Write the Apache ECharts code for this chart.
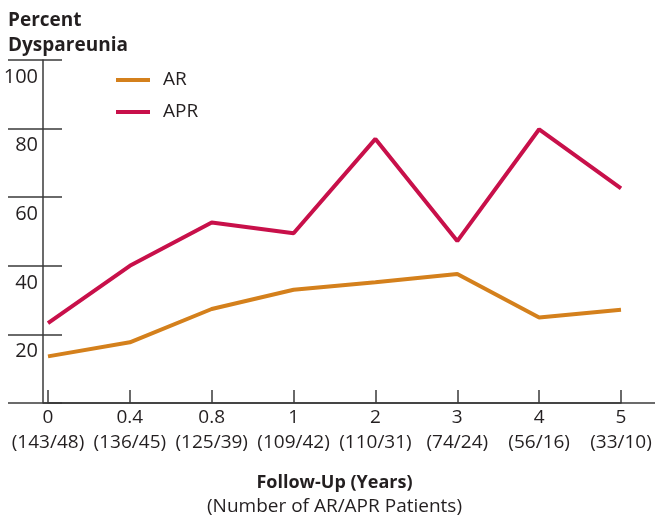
<!DOCTYPE html>
<html>
<head>
<meta charset="utf-8">
<script src="https://cdn.jsdelivr.net/npm/echarts@6/dist/echarts.min.js"></script>
<style>
  html, body { margin: 0; padding: 0; background: #fff; }
  #chart { width: 655px; height: 515px; }
</style>
</head>
<body>
<div id="chart"></div>
<script>
// follow-up years and number of patients (AR/APR)
const years = ['0', '0.4', '0.8', '1', '2', '3', '4', '5']
const patients = ['143/48', '136/45', '125/39', '109/42', '110/31', '74/24', '56/16', '33/10']
// percent dyspareunia
const arValues = [13.6, 17.7, 27.4, 33.0, 35.2, 37.6, 24.9, 27.2]
const aprValues = [23.3, 40.0, 52.6, 49.5, 77.0, 47.2, 79.8, 62.6]
const yTicks = { min: 0, max: 100, interval: 20 }

const textColor = '#231f20'
const axisColor = '#3a3a3a'
const font = 'Open Sans'

const chart = echarts.init(document.getElementById('chart'))

const option = {
  animation: false,
  textStyle: { fontFamily: font, color: textColor },
  title: {
    text: 'Percent\nDyspareunia',
    left: 3,
    top: 3,
    textStyle: {
      fontFamily: font,
      fontWeight: 'bold',
      fontSize: 19,
      lineHeight: 25,
      color: textColor
    }
  },
  legend: {
    orient: 'vertical',
    left: 111,
    top: 65,
    itemWidth: 34,
    itemHeight: 4,
    itemGap: 12,
    icon: 'rect',
    textStyle: { fontFamily: font, fontSize: 19, lineHeight: 20, color: textColor, padding: [0, 0, 0, 8] },
    data: ['AR', 'APR']
  },
  // keep the plot box fixed even if labels run to the edge
  grid: { left: 48, right: 34, top: 60, bottom: 112, outerBoundsMode: 'none' },
  xAxis: {
    type: 'category',
    boundaryGap: false,
    data: years,
    axisLine: { lineStyle: { color: axisColor, width: 1.5 } },
    axisTick: { inside: true, length: 13, lineStyle: { color: axisColor, width: 1.5 } },
    axisLabel: {
      interval: 0,
      margin: 2,
      fontFamily: font,
      fontSize: 19,
      lineHeight: 25,
      color: textColor,
      formatter: (v, i) => v + '\n(' + patients[i] + ')'
    },
    name: '{b|Follow-Up (Years)}\n{n|(Number of AR/APR Patients)}',
    nameLocation: 'middle',
    nameGap: 68,
    nameTextStyle: {
      rich: {
        b: { fontFamily: font, fontWeight: 'bold', fontSize: 18, lineHeight: 24, color: textColor },
        n: { fontFamily: font, fontSize: 19, lineHeight: 24, color: textColor }
      }
    }
  },
  yAxis: [
    {
      // outer ticks and labels
      type: 'value',
      min: yTicks.min,
      max: yTicks.max,
      interval: yTicks.interval,
      offset: 5,
      axisLine: { show: true, lineStyle: { color: axisColor, width: 1.5 } },
      axisTick: { show: true, length: 35, lineStyle: { color: axisColor, width: 1.5 } },
      axisLabel: {
        showMinLabel: false,
        margin: 5,
        verticalAlign: 'top',
        padding: [7, 0, 0, 0],
        fontFamily: font,
        fontSize: 20,
        color: textColor
      },
      splitLine: { show: false }
    },
    {
      // inner part of the ticks
      type: 'value',
      position: 'left',
      min: yTicks.min,
      max: yTicks.max,
      interval: yTicks.interval,
      offset: 5,
      axisLine: { show: false },
      axisTick: { show: true, inside: true, length: 19, lineStyle: { color: axisColor, width: 1.5 } },
      axisLabel: { show: false },
      splitLine: { show: false }
    }
  ],
  // long baseline reaching both edges
  graphic: [
    {
      type: 'line',
      shape: { x1: 8, y1: 403, x2: 655, y2: 403 },
      style: { stroke: axisColor, lineWidth: 1.5 },
      z: 1
    }
  ],
  series: [
    {
      name: 'AR',
      type: 'line',
      data: arValues,
      symbol: 'none',
      lineStyle: { color: '#d4801c', width: 4 },
      itemStyle: { color: '#d4801c' }
    },
    {
      name: 'APR',
      type: 'line',
      data: aprValues,
      symbol: 'none',
      lineStyle: { color: '#c8104a', width: 4 },
      itemStyle: { color: '#c8104a' }
    }
  ]
}

chart.setOption(option)
</script>
</body>
</html>
